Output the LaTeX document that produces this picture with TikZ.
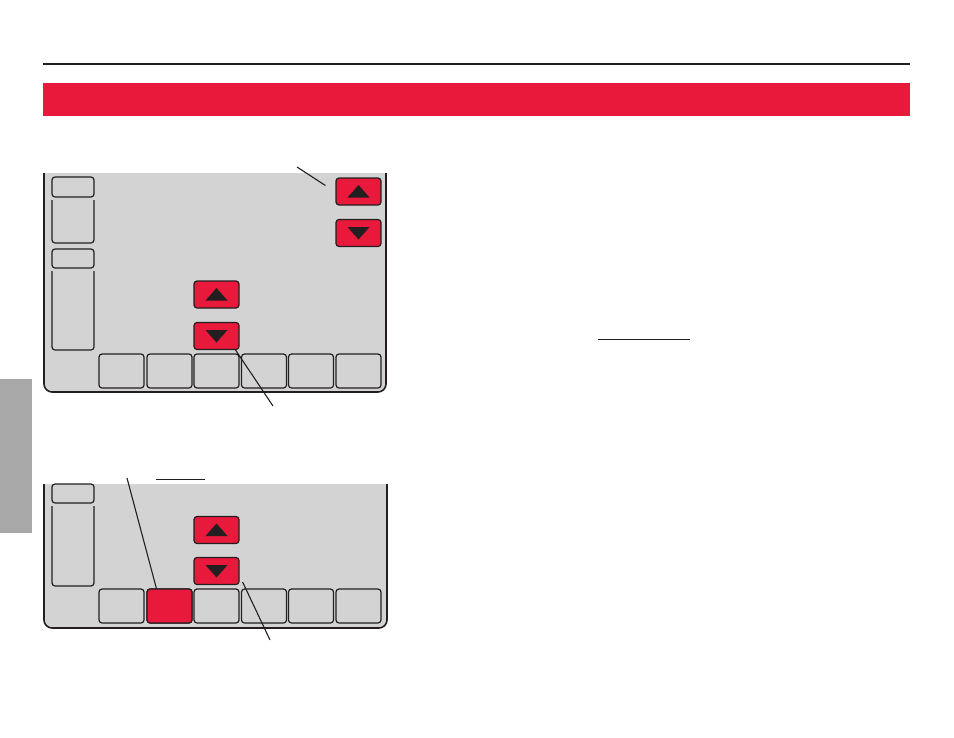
\documentclass[tikz,border=0pt]{standalone}
\usetikzlibrary{calc}
\definecolor{tred}{HTML}{E8193A}
\definecolor{panelgray}{HTML}{D3D3D3}
\definecolor{dark}{HTML}{231F20}
\definecolor{tabgray}{HTML}{A8A8A8}
\tikzset{
  x=1pt, y=-1pt,
  keyline/.style={draw=dark, line width=1.2pt},
  key/.style={keyline, rectangle, rounded corners=3pt, fill=panelgray, inner sep=0pt, minimum width=45pt},
  softkey/.style={key, minimum height=34pt},
  arrowkey/.style={key, fill=tred, minimum height=27pt},
  redsoft/.style={softkey, fill=tred},
  tri/.style={fill=dark, draw=none},
  leader/.style={draw=dark, line width=1.1pt},
  panelline/.style={draw=dark, line width=1.6pt},
}
\newcommand{\uptri}[1]{\path[tri] ($(#1)+(0,-6.5)$) -- ($(#1)+(-11,6)$) -- ($(#1)+(11,6)$) -- cycle;}
\newcommand{\dntri}[1]{\path[tri] ($(#1)+(0,6.5)$) -- ($(#1)+(-11,-6)$) -- ($(#1)+(11,-6)$) -- cycle;}
\begin{document}
\begin{tikzpicture}
\useasboundingbox (0,0) rectangle (954,737);
% header
\draw[dark, line width=2pt] (43,64) -- (910,64);
\fill[tred] (43,83) rectangle (910,116);
% side tab
\fill[tabgray] (0,379) rectangle (32,533);
% right underline
\draw[dark, line width=1pt] (598,339) -- (690,339);

% ---------- top device ----------
\begin{scope}
  \clip (40,173) rectangle (392,400);
  \fill[panelgray, rounded corners=8pt] (44,160) rectangle (386,392);
\end{scope}
\draw[panelline] (44,173) [rounded corners=8pt] -- (44,392) -- (386,392) -- (386,173);
% left boxes
\node[key, minimum height=20pt, minimum width=42pt] (tl1) at (73,187) {};
\draw[keyline, rounded corners=3pt] (52,200) -- (52,243) -- (94,243) -- (94,200);
\node[key, minimum height=19pt, minimum width=42pt] (tl3) at (73,258.5) {};
\draw[keyline, rounded corners=3pt] (52,271) -- (52,350) -- (94,350) -- (94,271);
% arrow keys
\node[arrowkey] (tupR) at (358.5,191.5) {};
\node[arrowkey] (tdnR) at (358.5,233) {};
\node[arrowkey] (tupM) at (216.5,294.5) {};
\node[arrowkey] (tdnM) at (216.5,336) {};
\uptri{tupR} \dntri{tdnR} \uptri{tupM} \dntri{tdnM}
% soft keys
\foreach \i/\cx in {1/121.5,2/169.5,3/216.5,4/264,5/311,6/358.5}
  \node[softkey] (tk\i) at (\cx,371) {};
% leaders
\coordinate (tla) at (297,167);
\coordinate (tlb) at ($(tupR.west)+(-10,-6)$);
\draw[leader] (tla) -- (tlb);
\coordinate (tma) at ($(tdnM.south east)+(-4,0)$);
\coordinate (tmb) at (273,406);
\draw[leader] (tma) -- (tmb);

% ---------- bottom device ----------
\begin{scope}
  \clip (40,484) rectangle (392,640);
  \fill[panelgray, rounded corners=8pt] (44,470) rectangle (387,628);
\end{scope}
\draw[panelline] (44,484) [rounded corners=8pt] -- (44,628) -- (387,628) -- (387,484);
\node[key, minimum height=19pt, minimum width=42pt] (bl1) at (73,493.5) {};
\draw[keyline, rounded corners=3pt] (52,506) -- (52,586) -- (94,586) -- (94,506);
\node[arrowkey] (bup) at (216.5,530) {};
\node[arrowkey] (bdn) at (216.5,571) {};
\uptri{bup} \dntri{bdn}
\foreach \i/\cx in {1/121.5,2/169.5,3/216.5,4/264,5/311,6/358.5}
  \node[softkey] (bk\i) at (\cx,606) {};
\node[redsoft] (bk2r) at (169.5,606) {};
% underline
\draw[dark, line width=1pt] (156,479) -- (205,479);
% leaders
\coordinate (bla) at (127,478);
\coordinate (blb) at ($(bk2r.north west)+(10,0)$);
\draw[leader] (bla) -- (blb);
\coordinate (bma) at ($(bdn.east)+(3,11)$);
\coordinate (bmb) at (270,640);
\draw[leader] (bma) -- (bmb);
\end{tikzpicture}
\end{document}
